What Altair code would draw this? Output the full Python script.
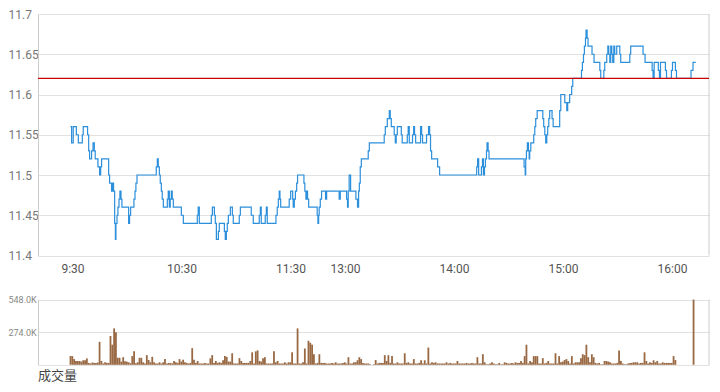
import altair as alt
import pandas as pd

# ---------------- data ----------------
# x = trading minutes since 9:30 (lunch break 12:00-13:00 removed)
tick_min = [0, 60, 120, 150, 210, 270, 330]
tick_lab = ["9:30", "10:30", "11:30", "13:00", "14:00", "15:00", "16:00"]
price_ticks = [11.4, 11.45, 11.5, 11.55, 11.6, 11.65, 11.7]
vol_ticks = [0, 274, 548]
prev_close = 11.62
vol_title = "成交量"

# price change points (minute, price) -- step line
price_pts = [
    (0, 11.56), (0.6, 11.54), (1.5, 11.56), (3.2, 11.55), (4.3, 11.54), (6.5, 11.55),
    (7.0, 11.56), (9.4, 11.55), (10.0, 11.53), (10.5, 11.52), (11.6, 11.53), (12.4, 11.54),
    (13.1, 11.53), (13.6, 11.52), (15.1, 11.51), (16.0, 11.50), (16.6, 11.51), (17.1, 11.52),
    (21.0, 11.50), (21.5, 11.49), (22.6, 11.48), (23.2, 11.49), (23.7, 11.48), (24.3, 11.44),
    (24.7, 11.42), (25.0, 11.44), (25.6, 11.45), (26.1, 11.46), (26.7, 11.47), (27.2, 11.48),
    (27.8, 11.47), (28.3, 11.46), (32.0, 11.44), (32.5, 11.45), (33.1, 11.46), (34.9, 11.47),
    (35.5, 11.48), (36.0, 11.49), (36.6, 11.50), (47.2, 11.51), (47.8, 11.52), (48.3, 11.51),
    (48.9, 11.50), (49.4, 11.49), (50.0, 11.48), (50.5, 11.47), (51.1, 11.46), (53.3, 11.47),
    (53.8, 11.48), (54.4, 11.46), (54.9, 11.47), (55.5, 11.48), (56.0, 11.47), (56.6, 11.46),
    (61.0, 11.45), (62.1, 11.44), (69.8, 11.45), (70.3, 11.46), (70.9, 11.44), (77.5, 11.45),
    (78.1, 11.46), (79.2, 11.45), (79.7, 11.44), (80.3, 11.42), (81.4, 11.43), (81.9, 11.44),
    (84.7, 11.43), (85.2, 11.42), (85.8, 11.43), (86.3, 11.44), (86.9, 11.45), (88.0, 11.46),
    (89.1, 11.45), (89.6, 11.44), (92.9, 11.45), (93.5, 11.46), (99.5, 11.45), (100.6, 11.44),
    (103.9, 11.45), (104.5, 11.46), (105.0, 11.44), (107.2, 11.45), (107.8, 11.46), (108.3, 11.44),
    (113.1, 11.45), (113.8, 11.46), (114.4, 11.47), (114.9, 11.48), (115.3, 11.47), (115.7, 11.46),
    (120.4, 11.47), (121.2, 11.48), (122.3, 11.47), (122.6, 11.46), (123.2, 11.47), (123.8, 11.48),
    (124.5, 11.49), (125.0, 11.50), (128.5, 11.49), (129.0, 11.48), (129.6, 11.47), (130.0, 11.48),
    (130.5, 11.47), (131.1, 11.46), (135.8, 11.45), (136.2, 11.44), (136.6, 11.45), (136.9, 11.46),
    (137.5, 11.47), (138.2, 11.48), (140.4, 11.47), (141.0, 11.48), (147.9, 11.47), (148.5, 11.48),
    (152.0, 11.47), (152.5, 11.46), (152.9, 11.48), (153.4, 11.50), (154.2, 11.48), (157.1, 11.47),
    (158.0, 11.46), (158.6, 11.48), (159.0, 11.49), (159.5, 11.51), (160.1, 11.52), (163.9, 11.53),
    (164.5, 11.54), (172.7, 11.55), (173.3, 11.56), (174.4, 11.57), (175.5, 11.58), (176.0, 11.57),
    (176.6, 11.56), (178.2, 11.55), (178.8, 11.54), (179.3, 11.55), (179.9, 11.56), (182.1, 11.55),
    (182.6, 11.54), (185.4, 11.55), (185.9, 11.56), (186.5, 11.54), (188.3, 11.55), (188.9, 11.56),
    (189.4, 11.55), (190.0, 11.54), (192.7, 11.56), (193.3, 11.55), (193.8, 11.54), (196.0, 11.55),
    (197.1, 11.56), (197.7, 11.55), (198.2, 11.53), (198.8, 11.52), (202.1, 11.51), (203.2, 11.50),
    (223.6, 11.51), (224.1, 11.52), (224.7, 11.50), (226.2, 11.51), (226.8, 11.52), (227.3, 11.50),
    (227.9, 11.51), (228.4, 11.52), (229.0, 11.53), (229.3, 11.54), (229.9, 11.53), (230.4, 11.52),
    (249.7, 11.51), (250.3, 11.50), (250.6, 11.52), (251.0, 11.53), (251.5, 11.54), (252.1, 11.53),
    (252.5, 11.52), (252.8, 11.53), (253.4, 11.54), (255.0, 11.55), (255.6, 11.56), (256.1, 11.57),
    (256.9, 11.58), (260.0, 11.57), (260.5, 11.56), (261.1, 11.55), (261.6, 11.54), (262.2, 11.55),
    (262.7, 11.56), (263.3, 11.57), (263.8, 11.58), (265.1, 11.57), (265.7, 11.56), (269.3, 11.58),
    (269.9, 11.60), (272.1, 11.59), (273.2, 11.58), (273.7, 11.59), (274.8, 11.60), (275.9, 11.61),
    (276.5, 11.62), (281.3, 11.63), (281.8, 11.64), (282.4, 11.65), (282.9, 11.66), (283.5, 11.67),
    (283.8, 11.68), (284.4, 11.67), (284.9, 11.66), (287.1, 11.65), (288.2, 11.64), (291.4, 11.63),
    (291.9, 11.62), (293.6, 11.63), (294.1, 11.64), (295.2, 11.65), (295.8, 11.66), (296.3, 11.65),
    (296.9, 11.64), (297.4, 11.66), (298.0, 11.65), (298.5, 11.64), (299.1, 11.66), (299.6, 11.65),
    (300.7, 11.66), (302.4, 11.65), (302.9, 11.64), (307.9, 11.65), (308.4, 11.66), (315.2, 11.65),
    (316.3, 11.64), (320.2, 11.63), (320.7, 11.62), (321.3, 11.64), (323.6, 11.63), (324.2, 11.62),
    (324.8, 11.64), (327.5, 11.63), (328.1, 11.62), (330.8, 11.63), (331.4, 11.64), (333.0, 11.63),
    (333.6, 11.62), (341.6, 11.63), (342.7, 11.64), (344.2, 11.64),
]

# per-minute volume (thousands of shares), minute 0 .. 333
vol_k = [
    73, 73, 48, 32, 32, 32, 27, 38, 38, 54, 16, 11, 19, 16, 16, 19, 193, 32, 11, 21,
    16, 16, 242, 169, 306, 274, 59, 59, 27, 64, 30, 27, 21, 13, 73, 113, 13, 21, 59, 59,
    21, 11, 81, 40, 21, 67, 21, 11, 11, 21, 11, 21, 48, 11, 16, 16, 11, 32, 21, 16,
    48, 27, 43, 21, 16, 11, 16, 140, 43, 16, 32, 11, 11, 11, 16, 11, 11, 54, 81, 16,
    32, 16, 21, 16, 38, 73, 67, 27, 27, 97, 11, 11, 11, 56, 32, 16, 16, 16, 16, 32,
    105, 11, 113, 121, 32, 27, 56, 64, 11, 11, 11, 11, 113, 21, 32, 11, 11, 11, 21, 11,
    21, 21, 105, 11, 11, 306, 11, 11, 21, 137, 11, 202, 185, 169, 89, 11, 16, 89, 16, 16,
    16, 11, 11, 11, 16, 11, 21, 11, 11, 11, 16, 21, 11, 64, 11, 11, 21, 21, 38, 64,
    48, 16, 11, 11, 11, 5, 0, 5, 40, 11, 16, 16, 16, 81, 32, 81, 16, 73, 11, 11,
    21, 11, 11, 11, 97, 16, 21, 11, 11, 48, 11, 11, 16, 38, 11, 38, 11, 145, 11, 21,
    16, 21, 11, 11, 11, 11, 11, 21, 11, 16, 11, 11, 11, 32, 11, 11, 11, 11, 16, 11,
    11, 16, 11, 11, 64, 11, 11, 89, 21, 5, 5, 11, 21, 11, 5, 5, 16, 5, 5, 21,
    16, 11, 11, 16, 11, 21, 16, 16, 32, 16, 73, 169, 11, 32, 21, 73, 73, 73, 11, 11,
    56, 11, 16, 32, 11, 11, 11, 97, 11, 73, 21, 27, 40, 48, 32, 11, 73, 11, 21, 21,
    21, 56, 89, 81, 169, 64, 21, 89, 64, 16, 11, 16, 5, 5, 32, 32, 27, 21, 11, 11,
    11, 16, 121, 32, 11, 5, 5, 11, 16, 16, 21, 21, 21, 11, 16, 16, 105, 32, 11, 21,
    16, 38, 21, 32, 11, 11, 21, 16, 16, 16, 16, 16, 73, 40,
]
close_min = 343       # closing auction
close_vol = 548

X_DOMAIN = [-17.9, 351.5]

# ---------------- frames ----------------
price_df = pd.DataFrame(price_pts, columns=["t", "p"])
vol_df = pd.DataFrame({"t": list(range(len(vol_k))) + [close_min],
                       "v": vol_k + [close_vol]})
ref_df = pd.DataFrame({"p": [prev_close]})
pborder_df = pd.DataFrame({"t": [X_DOMAIN[1]], "p": [price_ticks[0]], "p2": [price_ticks[-1]]})
vborder_df = pd.DataFrame({"t": [X_DOMAIN[1]], "v": [vol_ticks[0]], "v2": [vol_ticks[-1]]})
title_df = pd.DataFrame({"s": [vol_title]})

# ---------------- scales / axes ----------------
xs = alt.Scale(domain=X_DOMAIN, nice=False, zero=False, padding=0)
ps = alt.Scale(domain=[price_ticks[0], price_ticks[-1]], range=[241.5, 0], nice=False, zero=False)
vs = alt.Scale(domain=[vol_ticks[0], vol_ticks[-1]], range=[350.8, 285.6], nice=False, zero=False)

lab_expr = " : ".join(f"datum.value == {m} ? '{l}'" for m, l in zip(tick_min, tick_lab)) + " : ''"
x_axis = alt.Axis(values=tick_min, labelExpr=lab_expr, grid=False, domain=False, ticks=False,
                  labelPadding=7.5, offset=-109.5, labelFontSize=12, labelColor="#555",
                  labelOverlap=False, labelOffset=2, title=None, labelFont="Roboto")
p_axis = alt.Axis(values=price_ticks, labelExpr="format(datum.value, '~g')", orient="left",
                  labelAlign="left", labelPadding=30, ticks=False, domain=True, domainColor="#cccccc",
                  grid=True, gridColor="#e1e1e1", labelColor="#777", labelFontSize=12,
                  title=None, labelFont="Roboto")
v_axis = alt.Axis(values=vol_ticks, labelExpr="datum.value == 0 ? '' : format(datum.value, '.1f') + 'K'",
                  orient="left", labelAlign="left", labelPadding=30, ticks=False, domain=True,
                  domainColor="#cccccc", grid=True, gridColor="#e1e1e1", labelColor="#888",
                  labelFontSize=9, title=None, labelFont="Roboto")

X = alt.X("t:Q", scale=xs, axis=x_axis)

line = alt.Chart(price_df).mark_line(interpolate="step-after", color="#2b8fdc", strokeWidth=1.2).encode(
    x=X, y=alt.Y("p:Q", scale=ps, axis=p_axis))
ref = alt.Chart(ref_df).mark_rule(color="#cc0000", strokeWidth=1.2).encode(
    y=alt.Y("p:Q", scale=ps, axis=p_axis))
pborder = alt.Chart(pborder_df).mark_rule(color="#cccccc", strokeWidth=1).encode(
    x=X, y=alt.Y("p:Q", scale=ps, axis=p_axis), y2="p2:Q")
price_layer = alt.layer(pborder, line, ref)

bars = alt.Chart(vol_df).mark_bar(color="#996944", size=1.8).encode(
    x=X, y=alt.Y("v:Q", scale=vs, axis=v_axis))
vborder = alt.Chart(vborder_df).mark_rule(color="#cccccc", strokeWidth=1).encode(
    x=X, y=alt.Y("v:Q", scale=vs, axis=v_axis), y2="v2:Q")
title_txt = alt.Chart(title_df).mark_text(align="left", baseline="top", fontSize=13,
                                          font="Noto Sans CJK SC", color="#444").encode(
    x=alt.value(0), y=alt.value(356), text="s:N")
vol_layer = alt.layer(vborder, bars, title_txt)

chart = alt.layer(price_layer, vol_layer).resolve_scale(y="independent").properties(
    width=671, height=351, padding=0
).configure_view(stroke=None)

chart.save("out.html", embed_options={"renderer": "svg", "actions": False})
